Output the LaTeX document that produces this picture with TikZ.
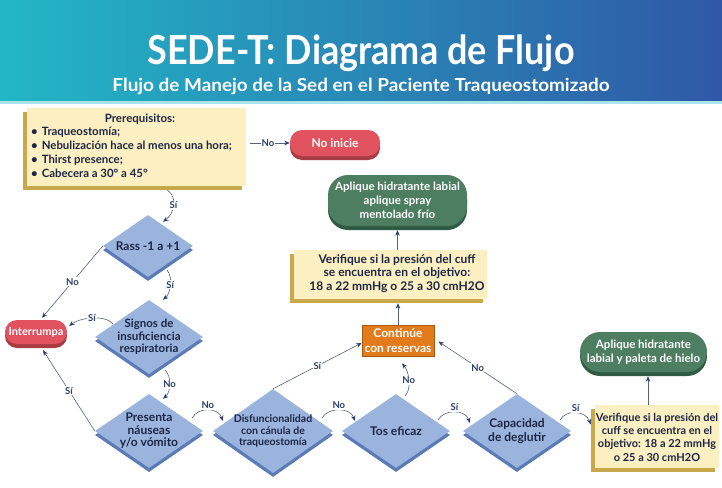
\documentclass[tikz,border=0pt]{standalone}
\usepackage{fontspec}
\setmainfont{Lato}
\usepackage{graphicx}
\usetikzlibrary{shapes.geometric,shadows,arrows.meta,calc}
\definecolor{hl}{HTML}{22B7C6}
\definecolor{hm}{HTML}{2690D0}
\definecolor{hr}{HTML}{2F58A6}
\definecolor{stripc}{HTML}{A9E3EC}
\definecolor{yel}{HTML}{FCF0C2}
\definecolor{gold}{HTML}{C8A84B}
\definecolor{redA}{HTML}{E1525F}
\definecolor{redB}{HTML}{A93B45}
\definecolor{grnA}{HTML}{4D7E62}
\definecolor{grnB}{HTML}{2F5A43}
\definecolor{dblue}{HTML}{9AB4DE}
\definecolor{dshad}{HTML}{5B7BB6}
\definecolor{orgA}{HTML}{E37B1C}
\definecolor{orgB}{HTML}{A8590F}
\definecolor{navy}{HTML}{2B3F6E}
\definecolor{linec}{HTML}{56607A}
\definecolor{txt}{HTML}{1C2645}
\begin{document}
\begin{tikzpicture}[x=1pt,y=-1pt,
  ybox/.style={rectangle, fill=yel, inner sep=0pt, general shadow={fill=gold, shadow xshift=-4pt, shadow yshift=-4pt}},
  pill/.style={rectangle, rounded corners=#1, inner sep=0pt, text=white, align=center, font=\fontsize{11.5}{14}\selectfont\bfseries},
  redpill/.style={pill=12pt, fill=redA, general shadow={fill=redB, shadow yshift=-4pt}},
  grnpill/.style={pill=20pt, fill=grnA, general shadow={fill=grnB, shadow yshift=-4pt}},
  dia/.style={diamond, fill=dblue, inner sep=0pt, general shadow={fill=dshad, shadow yshift=-4pt}},
  dtext/.style={text=txt, align=center, inner sep=0pt, font=\fontsize{11.5}{12.5}\selectfont\bfseries},
  btext/.style={text=txt, align=center, inner sep=0pt, font=\fontsize{12}{13.6}\selectfont\bfseries},
  conn/.style={draw=linec, line width=0.6pt, -{Stealth[length=5.5pt,width=4.5pt,color=navy]}},
  lbl/.style={text=navy, fill=white, inner sep=1pt, font=\fontsize{9.5}{11}\selectfont\bfseries}
]
\useasboundingbox (0,0) rectangle (722,487);
% header
\fill[left color=hl, middle color=hm, right color=hr] (0,0) rectangle (722,101);
\fill[stripc] (0,101) rectangle (722,104);
\node[text=white, anchor=base, inner sep=0pt, font=\fontsize{40}{44}\selectfont\bfseries] (title) at (361,64) {\resizebox{427pt}{\height}{SEDE-T: Diagrama de Flujo}};
\node[text=white, anchor=base, inner sep=0pt, font=\fontsize{18}{20}\selectfont\bfseries] (subtitle) at (361,91.5) {\resizebox{497pt}{\height}{Flujo de Manejo de la Sed en el Paciente Traqueostomizado}};

% prerequisites
\node[ybox, minimum width=219pt, minimum height=78pt] (prereq) at (136.5,147) {};
\node[text=txt, anchor=base, inner sep=0pt, font=\fontsize{11.5}{12}\selectfont\bfseries] (preqt) at (140,122.5) {Prerequisitos:};
\node[text=txt, anchor=north west, align=left, inner sep=0pt, font=\fontsize{11.4}{14.3}\selectfont\bfseries] (preql) at (31,126.5)
 {\textbullet\hspace{4pt}Traqueostomía;\\ \textbullet\hspace{4pt}Nebulización hace al menos una hora;\\ \textbullet\hspace{4pt}Thirst presence;\\ \textbullet\hspace{4pt}Cabecera a 30° a 45°};

\node[redpill, minimum width=90pt, minimum height=26pt, font=\fontsize{12}{14}\selectfont\bfseries] (noinicie) at (335,143) {No inicie};
\node[grnpill, minimum width=139pt, minimum height=51pt] (green1) at (397.5,200.5) {Aplique hidratante labial\\aplique spray\\mentolado frío};
\node[ybox, minimum width=193pt, minimum height=49pt] (yellow2) at (390.5,274.5) {};
\node[btext] (yellow2t) at (397,273.5) {Verifique si la presión del cuff\\se encuentra en el objetivo:\\18 a 22 mmHg o 25 a 30 cmH2O};
\node[rectangle, fill=orgA, draw=orgB, line width=0.8pt, inner sep=0pt, text=white, align=center, font=\fontsize{12}{15}\selectfont\bfseries, minimum width=72pt, minimum height=31pt] (cont) at (398,340.5) {Continúe\\con reservas};
\node[redpill, minimum width=62pt, minimum height=24pt, font=\fontsize{11}{13}\selectfont\bfseries] (interrumpa) at (36,332) {Interrumpa};
\node[grnpill, minimum width=127pt, minimum height=40pt] (green2) at (643.5,352) {Aplique hidratante\\labial y paleta de hielo};
\node[ybox, minimum width=124pt, minimum height=63pt] (yellow3) at (657,436.5) {};
\node[btext, font=\fontsize{11}{13.3}\selectfont\bfseries] (yellow3t) at (657,437) {Verifique si la presión del\\cuff se encuentra en el\\objetivo: 18 a 22 mmHg\\o 25 a 30 cmH2O};

% diamonds
\node[dia, minimum width=90pt, minimum height=62pt] (rass) at (148,246) {};
\node[dtext, font=\fontsize{12}{13}\selectfont\bfseries] (rasst) at (rass) {Rass -1 a +1};
\node[dia, minimum width=108pt, minimum height=74pt] (signos) at (149,337) {};
\node[dtext] (signost) at (signos) {Signos de\\insuficiencia\\respiratoria};
\node[dia, minimum width=108pt, minimum height=74pt] (presenta) at (149,431) {};
\node[dtext, font=\fontsize{12}{12.5}\selectfont\bfseries] (presentat) at (presenta) {Presenta\\náuseas\\y/o vómito};
\node[dia, minimum width=120pt, minimum height=84pt] (disf) at (273,431) {};
\node[dtext, font=\fontsize{10.5}{11.7}\selectfont\bfseries] (disft) at (disf) {Disfuncionalidad\\con cánula de\\traqueostomía};
\node[dia, minimum width=108pt, minimum height=74pt] (tos) at (396,431) {};
\node[dtext, font=\fontsize{12}{12.5}\selectfont\bfseries] (tost) at (tos) {Tos eficaz};
\node[dia, minimum width=108pt, minimum height=74pt] (cap) at (517,431) {};
\node[dtext, font=\fontsize{12}{13.5}\selectfont\bfseries] (capt) at (cap) {Capacidad\\de deglutir};

% connectors
\draw[conn] ($(prereq.east |- noinicie.west)+(4,0)$) -- (noinicie.west) node[lbl,pos=.45]{No};
\draw[conn] ([xshift=31pt,yshift=-4pt]prereq.south) .. controls +(10,7) and +(12,-9) .. ([xshift=15pt,yshift=-7pt]rass.north) node[lbl,pos=.5]{Sí};
\draw[conn] ([xshift=19pt,yshift=-24pt]rass.center) .. controls +(6,7) and +(8,-7) .. ([xshift=14pt]signos.north) node[lbl,pos=.5]{Sí};
\draw[conn] ([xshift=16pt,yshift=-33pt]signos.center) .. controls +(7,7) and +(8,-7) .. ([xshift=14pt,yshift=-5pt]presenta.north) node[lbl,pos=.5]{No};
\draw[conn] (rass.west) -- ([xshift=6pt,yshift=2pt]interrumpa.north) node[lbl,pos=.5]{No};
\draw[conn] ([xshift=-36pt,yshift=13pt]signos.center) .. controls +(-8,-10) and +(10,-8) .. ([xshift=2pt,yshift=6pt]interrumpa.east) node[lbl,pos=.5]{Sí};
\draw[conn] (presenta.west) -- ([xshift=7pt,yshift=-6pt]interrumpa.south) node[lbl,pos=.5]{Sí};
\draw[conn] ([xshift=43pt,yshift=13pt]presenta.center) .. controls +(6,-11) and +(-5,-14) .. ([xshift=-50pt,yshift=10pt]disf.center) node[lbl,above=0pt,pos=.5]{No};
\draw[conn] ([xshift=49pt,yshift=13pt]disf.center) .. controls +(6,-11) and +(-5,-14) .. ([xshift=-41pt,yshift=10pt]tos.center) node[lbl,above=0pt,pos=.5]{No};
\draw[conn] ([xshift=42pt,yshift=11pt]tos.center) .. controls +(6,-11) and +(-5,-14) .. ([xshift=-47pt,yshift=8pt]cap.center) node[lbl,above=0pt,pos=.5]{Sí};
\draw[conn] ([xshift=43pt,yshift=11pt]cap.center) .. controls +(6,-11) and +(-5,-14) .. ([xshift=-4pt,yshift=12pt]yellow3.west) node[lbl,above=0pt,pos=.5]{Sí};
\draw[conn] (disf.north) -- ([yshift=-2.5pt]cont.west) node[lbl,pos=.5]{Sí};
\draw[conn] ([xshift=9pt,yshift=35pt]tos.center) .. controls +(7,-7) and +(7,8) .. ([xshift=4pt,yshift=-7pt]cont.south) node[lbl,pos=.5]{No};
\draw[conn] (cap.north) -- ([xshift=4pt,yshift=-1pt]cont.east) node[lbl,pos=.5]{No};
\draw[conn] (cont.north) -- ($(cont.north |- yellow2.south)+(0,4)$);
\draw[conn] (green1.south |- yellow2.north) -- ([yshift=-4pt]green1.south);
\draw[conn] ($(green2.south |- yellow3.north)+(4.5,0)$) -- ([xshift=4.5pt,yshift=-4pt]green2.south);
\end{tikzpicture}
\end{document}
